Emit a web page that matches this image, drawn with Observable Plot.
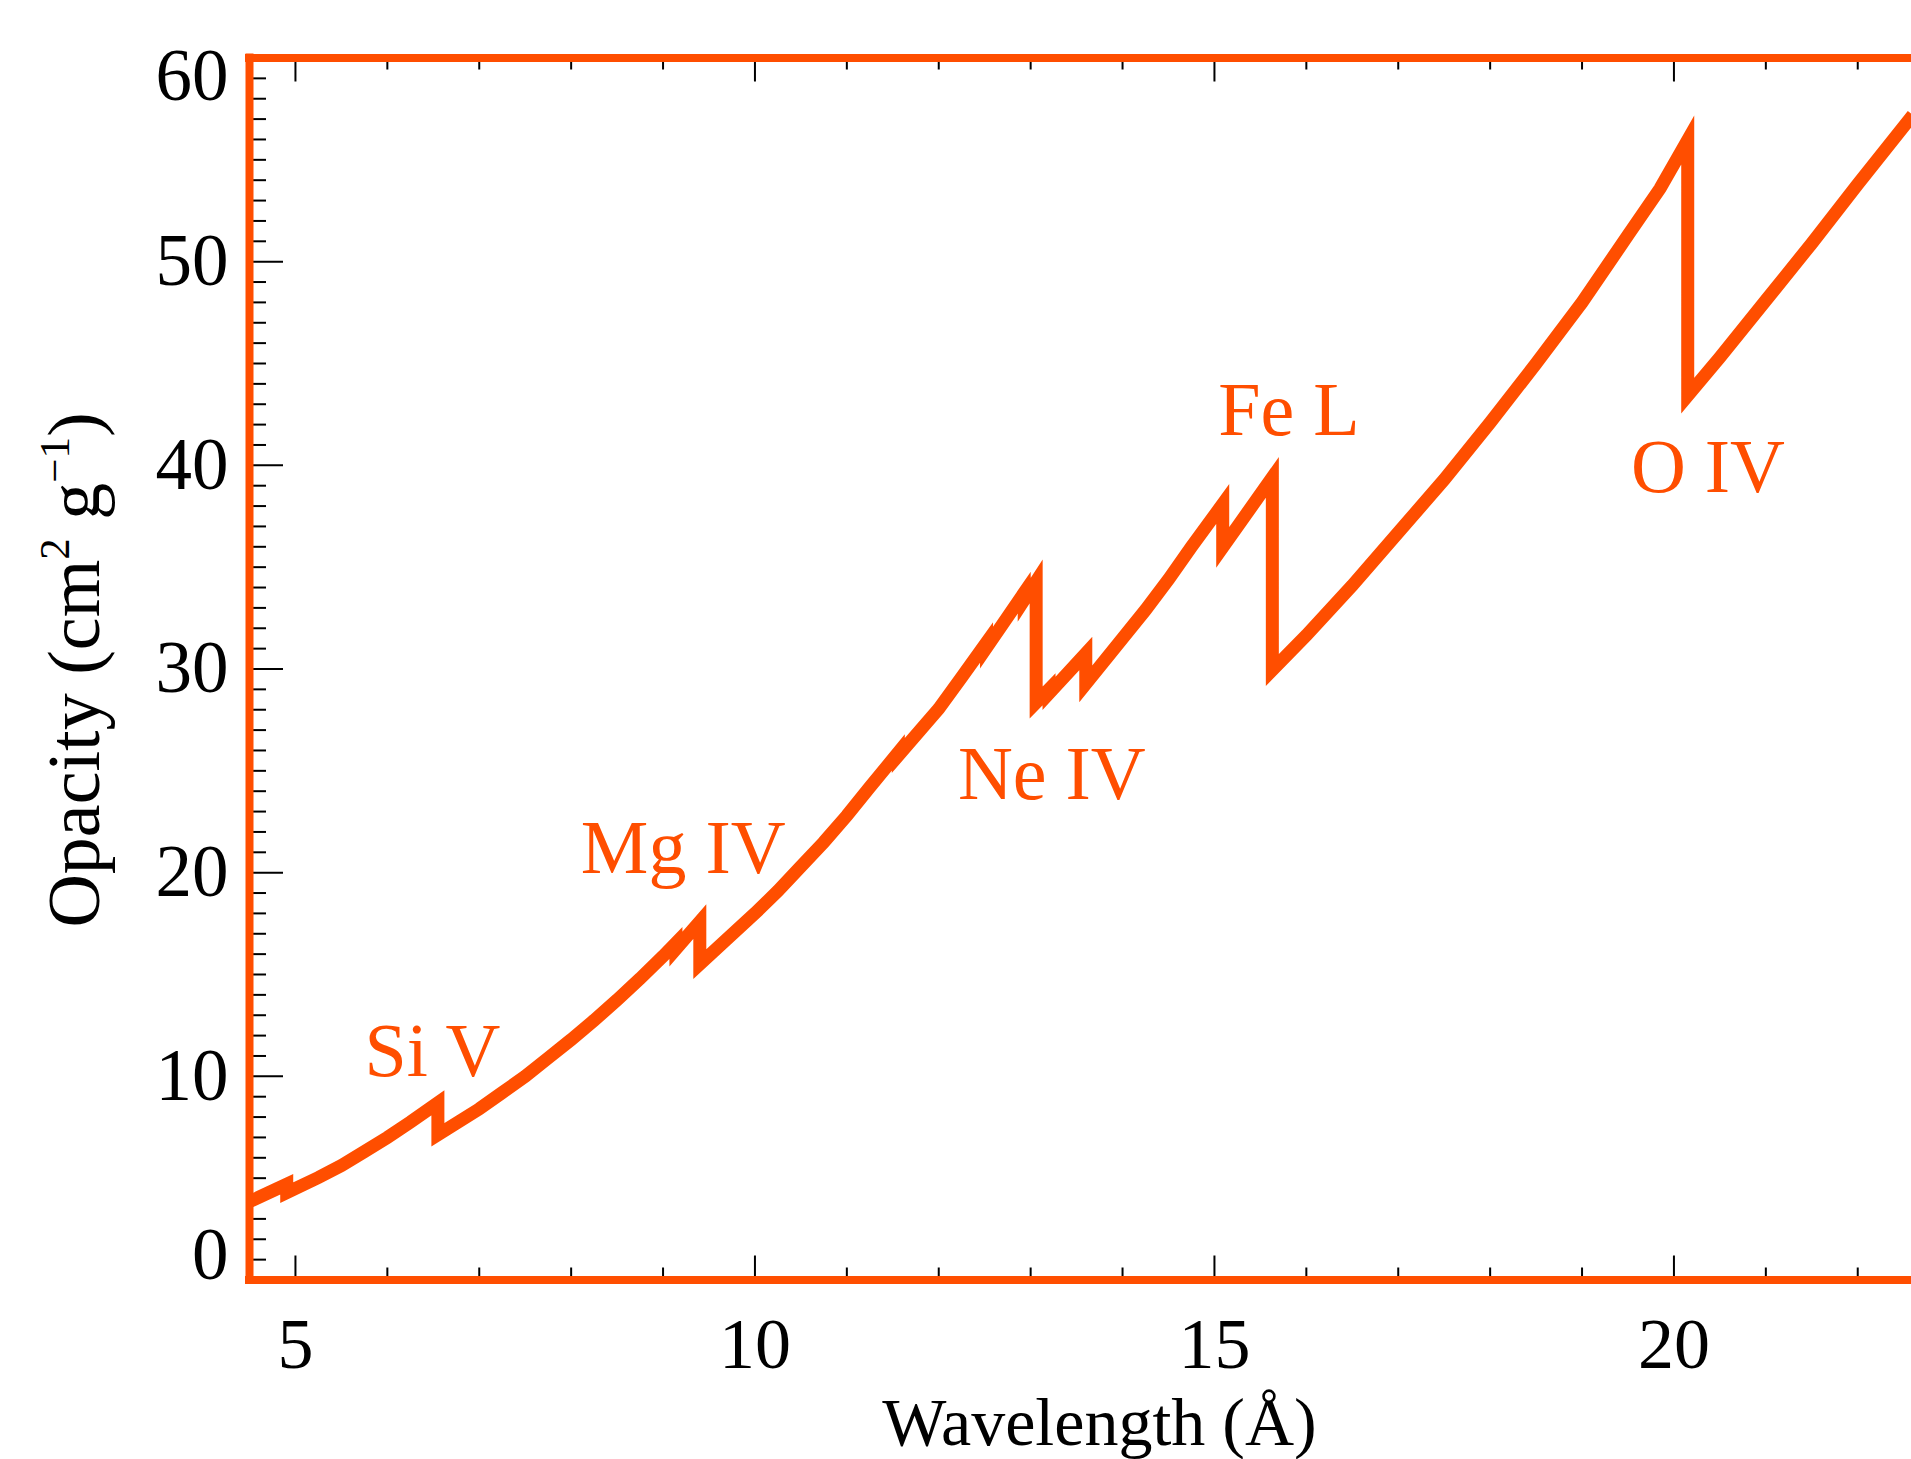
<!DOCTYPE html>
<html>
<head>
<meta charset="utf-8">
<script src="https://cdn.jsdelivr.net/npm/d3@7"></script>
<script src="https://cdn.jsdelivr.net/npm/@observablehq/plot@0.6"></script>
<style>
  html, body { margin: 0; padding: 0; background: #ffffff; overflow: hidden; }
  #chart svg { display: block; }
</style>
</head>
<body>
<div id="chart"></div>
<script>
// ---- data ----
const wavelength = [4.50, 4.905, 4.905, 5.25, 5.50, 5.75, 6.00, 6.25, 6.55, 6.55,
  7.00, 7.25, 7.50, 7.75, 8.00, 8.25, 8.50, 8.75, 9.00, 9.14, 9.14, 9.40, 9.40,
  10.00, 10.25, 10.50, 10.75, 11.00, 11.25, 11.56, 11.56, 11.80, 12.00, 12.25, 12.52, 12.52,
  12.93, 12.93, 13.06, 13.06, 13.20, 13.20, 13.60, 13.60,
  14.00, 14.25, 14.50, 14.75, 15.09, 15.09, 15.63, 15.63,
  16.00, 16.50, 17.00, 17.50, 18.00, 18.50, 19.00, 19.50, 19.85, 20.15, 20.15,
  20.50, 21.00, 21.50, 22.00, 22.60];
const opacity = [3.85, 4.70, 4.29, 5.03, 5.62, 6.30, 7.00, 7.75, 8.70, 7.13,
  8.40, 9.20, 10.00, 10.90, 11.80, 12.75, 13.75, 14.80, 15.90, 16.55, 16.25, 17.60, 15.51,
  18.00, 19.10, 20.30, 21.50, 22.80, 24.20, 25.90, 25.75, 27.00, 28.05, 29.60, 31.30, 31.05,
  33.75, 33.40, 34.30, 28.35, 29.00, 28.80, 30.76, 29.27,
  31.50, 32.90, 34.40, 36.00, 38.10, 35.97, 39.41, 29.95,
  31.65, 34.10, 36.70, 39.30, 42.10, 45.00, 48.00, 51.30, 53.60, 55.97, 43.42,
  45.30, 48.10, 50.90, 53.80, 57.20];

const edgeNames = ["Si V", "Mg IV", "Ne IV", "Fe L", "O IV"];
const edgeNameX = [6.49, 9.22, 13.23, 15.81, 20.37];
const edgeNameY = [10.0, 20.0, 23.6, 41.5, 38.7];

const xDomain = [4.5, 22.585];
const yDomain = [0, 60];
const xMajorTicks = [5, 10, 15, 20];
const xMinorTicks = [6, 7, 8, 9, 11, 12, 13, 14, 16, 17, 18, 19, 21, 22];
const yMajorTicks = [0, 10, 20, 30, 40, 50, 60];
const yMinorTicks = d3.range(1, 60).filter(v => v % 10 !== 0);
const yLabelsInner = [10, 20, 30, 40, 50];
const yLabelBottom = [0];
const yLabelTop = [60];

const xTitle = "Wavelength (Å)";

// ---- layout ----
const W = 1911, H = 1459;
const mL = 249, mR = 0, mT = 57.5, mB = 179.5;
const fw = W - mL - mR, fh = H - mT - mB;
const orange = "#ff4e00";
const serif = "Liberation Serif, Times New Roman, serif";

const spectrum = wavelength.map((w, i) => ({wavelength: w, opacity: opacity[i]}));
const edges = edgeNames.map((n, i) => ({name: n, x: edgeNameX[i], y: edgeNameY[i]}));

const chart = Plot.plot({
  width: W, height: H,
  marginLeft: mL, marginRight: mR, marginTop: mT, marginBottom: mB,
  style: {fontFamily: serif, background: "#ffffff", color: "#000000", overflow: "visible"},
  x: {domain: xDomain, axis: null},
  y: {domain: yDomain, axis: null},
  marks: [
    // inward ticks
    Plot.tickY(yMajorTicks, {y: d => d, stroke: "#000", strokeWidth: 2, insetRight: fw - 34}),
    Plot.tickY(yMinorTicks, {y: d => d, stroke: "#000", strokeWidth: 2, insetRight: fw - 17}),
    Plot.tickX(xMajorTicks, {x: d => d, stroke: "#000", strokeWidth: 2, insetTop: fh - 24}),
    Plot.tickX(xMinorTicks, {x: d => d, stroke: "#000", strokeWidth: 2, insetTop: fh - 12}),
    Plot.tickX(xMajorTicks, {x: d => d, stroke: "#000", strokeWidth: 2, insetBottom: fh - 24}),
    Plot.tickX(xMinorTicks, {x: d => d, stroke: "#000", strokeWidth: 2, insetBottom: fh - 12}),
    // frame (left, bottom, top)
    Plot.ruleX([xDomain[0]], {stroke: orange, strokeWidth: 8, strokeLinecap: "square"}),
    Plot.ruleY(yDomain, {stroke: orange, strokeWidth: 8, strokeLinecap: "square"}),
    // opacity curve
    Plot.line(spectrum, {
      x: "wavelength", y: "opacity", stroke: orange, strokeWidth: 13,
      strokeLinejoin: "miter", strokeLinecap: "butt", strokeMiterlimit: 10, curve: "linear"
    }),
    // edge labels
    Plot.text(edges, {x: "x", y: "y", text: "name", fill: orange, fontSize: 76,
      fontFamily: serif, textAnchor: "middle", lineAnchor: "bottom"}),
    // y tick labels
    Plot.text(yLabelsInner, {y: d => d, text: d => String(d), frameAnchor: "left", dx: -21,
      textAnchor: "end", lineAnchor: "middle", fontSize: 73, fontFamily: serif, fill: "#000"}),
    Plot.text(yLabelBottom, {y: d => d, text: d => String(d), frameAnchor: "left", dx: -21, dy: -24,
      textAnchor: "end", lineAnchor: "middle", fontSize: 73, fontFamily: serif, fill: "#000"}),
    Plot.text(yLabelTop, {y: d => d, text: d => String(d), frameAnchor: "left", dx: -21, dy: 19,
      textAnchor: "end", lineAnchor: "middle", fontSize: 73, fontFamily: serif, fill: "#000"}),
    // x tick labels
    Plot.text(xMajorTicks, {x: d => d, text: d => String(d), frameAnchor: "bottom", dy: 36.5,
      textAnchor: "middle", lineAnchor: "top", fontSize: 72, fontFamily: serif, fill: "#000"}),
    // x title
    Plot.text([xTitle], {text: d => d, frameAnchor: "bottom", dx: 19, dy: 164.5,
      textAnchor: "middle", lineAnchor: "bottom", fontSize: 68, fontFamily: serif, fill: "#000"})
  ]
});

// y title with real superscripts
const svg = d3.select(chart);
const yt = svg.append("text")
  .attr("transform", `translate(99,${mT + fh / 2 + 1.5}) rotate(-90)`)
  .attr("text-anchor", "middle")
  .attr("font-family", serif)
  .attr("font-size", 74)
  .attr("fill", "#000");
yt.append("tspan").text("Opacity (cm");
yt.append("tspan").attr("font-size", 43).attr("dy", -30).text("2");
yt.append("tspan").attr("dy", 30).text(" g");
yt.append("tspan").attr("font-size", 43).attr("dy", -30).text("\u22121");
yt.append("tspan").attr("dy", 30).text(")");

document.getElementById("chart").appendChild(chart);
</script>
</body>
</html>
